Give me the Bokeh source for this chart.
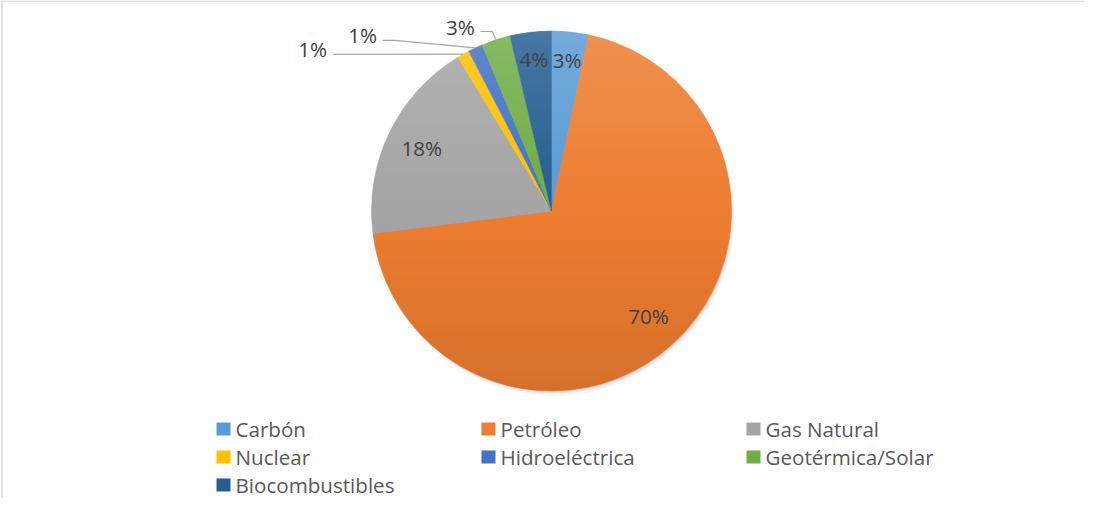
import numpy as np
from bokeh.plotting import figure
from bokeh.models import Range1d
from bokeh.core.properties import value
from bokeh.embed import file_html
from bokeh.resources import INLINE

# ---- data ----
categories = ["Carbón", "Petróleo", "Gas Natural", "Nuclear",
              "Hidroeléctrica", "Geotérmica/Solar", "Biocombustibles"]
shares = [3.3, 69.7, 18.3, 1.1, 1.3, 2.6, 3.7]
colors = ["#5B9BD5", "#ED7D31", "#A5A5A5", "#FFC000",
          "#4472C4", "#70AD47", "#255E91"]

# ---- style / layout ----
label_outside = [False, False, False, True, True, True, False]
label_rfrac = [0.845, 0.795, 0.80, 1.0, 1.0, 1.0, 0.848]
# outside label offsets from slice edge (px, x right, y up)
out_dx = {3: -150.6, 4: -112.7, 5: -35.4}
out_dy = {3: 4.7, 4: 12.5, 5: 13.3}
FONT = "Open Sans"
FS = "20.6px"

W, H = 1084, 498
p = figure(width=W, height=H, x_range=Range1d(0, W), y_range=Range1d(0, H),
           output_backend="svg", toolbar_location=None, min_border=0)
p.axis.visible = False
p.grid.visible = False
p.outline_line_color = None
p.background_fill_color = "white"
p.border_fill_color = "white"

# chart frame (top and left edges visible)
p.segment(x0=[0, 1.5], y0=[H - 0.5, 0], x1=[W, 1.5], y1=[H - 0.5, H],
          line_color="#D9D9D9", line_width=1.5)

cx, cy, R = 551.0, 287.5, 180.0

vals = np.array(shares, dtype=float)
frac = vals / vals.sum()
c1 = np.cumsum(frac)
c0 = c1 - frac
start = np.pi / 2 - 2 * np.pi * c1
end = np.pi / 2 - 2 * np.pi * c0

# soft shadow
for off, a, rr in [(4, 0.03, 181), (3, 0.05, 180), (2, 0.07, 179.5)]:
    p.circle(x=cx + off * 0.6, y=cy - off, radius=rr, fill_color="black",
             fill_alpha=a, line_color=None)

p.wedge(x=cx, y=cy, radius=R, start_angle=list(start), end_angle=list(end),
        direction="anticlock", fill_color=colors, line_color=colors,
        line_width=0.5)

# vertical gradient overlay (light top, darker bottom)
N = int(2 * R) + 4
yy, xx = np.mgrid[0:N, 0:N]
px = xx + 0.5 - N / 2
py = yy + 0.5 - N / 2
d = np.sqrt(px ** 2 + py ** 2)
edge = np.clip(R - d + 0.5, 0, 1)
t = np.clip(1 - (py + R) / (2 * R), 0, 1)  # 0 top, 1 bottom
img = np.zeros((N, N, 4), dtype=np.uint8)
white_a = np.clip(0.16 * (1 - 2 * t), 0, 1)
black_a = np.clip(0.10 * (2 * t - 1), 0, 1)
is_white = t < 0.5
for k in range(3):
    img[..., k] = np.where(is_white, 255, 0)
img[..., 3] = (np.where(is_white, white_a, black_a) * edge * 255).astype(np.uint8)
p.image_rgba(image=[img.view(dtype=np.uint32).reshape((N, N))],
             x=cx - N / 2, y=cy - N / 2, dw=N, dh=N)

# data labels
mid = (c0 + c1) / 2
theta = np.pi / 2 - 2 * np.pi * mid
labels = [f"{int(round(s))}%" for s in shares]
in_x, in_y, in_t = [], [], []
for i, lab in enumerate(labels):
    if label_outside[i]:
        ax = cx + R * np.cos(theta[i])
        ay = cy + R * np.sin(theta[i])
        lx = ax + out_dx[i]
        ly = ay + out_dy[i]
        sx, sy = lx + 20, ly - 5
        p.line(x=[sx, sx + 12, ax], y=[sy, sy, ay], line_color="#A6A6A6",
               line_width=1.2)
        p.text(x=[lx], y=[ly], text=[lab], text_align="center",
               text_baseline="middle", text_font=value(FONT),
               text_font_size=value(FS), text_color="#404040")
    else:
        r = R * label_rfrac[i]
        in_x.append(cx + r * np.cos(theta[i]))
        in_y.append(cy + r * np.sin(theta[i]))
        in_t.append(lab)
p.text(x=in_x, y=in_y, text=in_t, text_align="center", text_baseline="middle",
       text_font=value(FONT), text_font_size=value(FS), text_color="#404040")

# legend (3 columns)
col_w, row_h = 265, 28
lx0, ly0 = 223, 69.5
lg_x = [lx0 + (i % 3) * col_w for i in range(len(categories))]
lg_y = [ly0 - (i // 3) * row_h for i in range(len(categories))]
p.rect(x=lg_x, y=lg_y, width=14, height=13, fill_color=colors, line_color=None)
p.text(x=[x + 12 for x in lg_x], y=lg_y, text=categories, text_align="left",
       text_baseline="middle", text_font=value(FONT), text_font_size=value(FS),
       text_color="#595959")

open("out.html", "w").write(file_html(p, INLINE))
